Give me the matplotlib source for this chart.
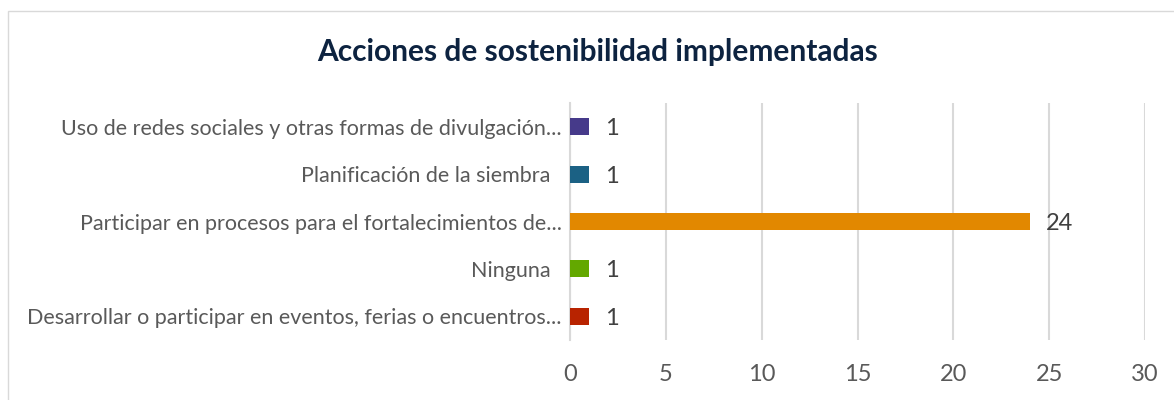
import matplotlib.pyplot as plt
from matplotlib.patches import Rectangle

categorias = [
    'Desarrollar o participar en eventos, ferias o encuentros...',
    'Ninguna  ',
    'Participar en procesos para el fortalecimientos de...',
    'Planificación de la siembra  ',
    'Uso de redes sociales y otras formas de divulgación...',
]
valores = [1, 1, 24, 1, 1]
colores = ['#b82300', '#63a800', '#e28800', '#1b6184', '#463a8a']
ticks_x = [0, 5, 10, 15, 20, 25, 30]

plt.rcParams['font.family'] = ['Lato', 'DejaVu Sans']

fig = plt.figure(figsize=(11.74, 4), dpi=100)
ax = fig.add_axes([570 / 1174, 60 / 400, 575 / 1174, 237 / 400])

y = range(len(categorias))
ax.barh(y, valores, height=0.36, color=colores, zorder=3)

for yi, v in zip(y, valores):
    ax.annotate(str(v), (v, yi), xytext=(16, -2), textcoords='offset pixels',
                va='center', ha='left', fontsize=17, color='#404040')

ax.set_xlim(0, 30)
ax.set_ylim(-0.5, 4.5)
ax.set_xticks(ticks_x)
ax.set_yticks(list(y))
ax.set_yticklabels(categorias, fontsize=15.5, color='#595959')
ax.tick_params(axis='x', labelsize=17, labelcolor='#595959', length=0, pad=17)
ax.tick_params(axis='y', length=0, pad=6)
ax.grid(axis='x', color='#d9d9d9', linewidth=1.5, zorder=0)
for s in ['top', 'right', 'bottom']:
    ax.spines[s].set_visible(False)
ax.spines['left'].set_color('#d9d9d9')
ax.spines['left'].set_linewidth(1.5)

fig.text(598 / 1174, 1 - 52 / 400, 'Acciones de sostenibilidad implementadas',
         ha='center', va='center', fontsize=21.5, fontweight='bold', color='#0d2340')

fig.patches.append(Rectangle((8 / 1174, -0.01), 1.2, 1 - 11 / 400 + 0.01, transform=fig.transFigure,
                             fill=False, edgecolor='#d9d9d9', linewidth=1))

fig.savefig('out.png', dpi=100)
